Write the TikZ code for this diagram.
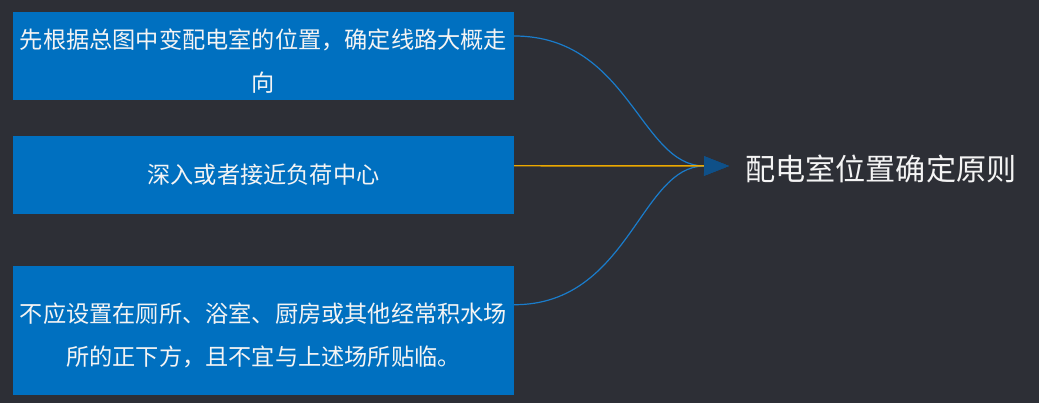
\documentclass[tikz,border=0pt]{standalone}
\usepackage{fontspec}
\setmainfont{Noto Sans CJK SC}
\usetikzlibrary{arrows.meta,calc}
\definecolor{bg}{HTML}{2D2F36}
\definecolor{boxblue}{HTML}{0070C0}
\definecolor{linkblue}{HTML}{1A7CCB}
\definecolor{linkgold}{HTML}{EBA800}
\definecolor{headblue}{HTML}{0F5088}
\definecolor{txt}{HTML}{F4F4F4}
\newcommand{\upstrut}{\rule{0pt}{22pt}}
\begin{document}
\begin{tikzpicture}[x=0.75pt,y=-0.75pt,
  box/.style={fill=boxblue, draw=none, inner sep=0pt, minimum width=375.75pt,
    align=center, text=txt, font=\fontsize{17.4}{32}\selectfont},
  link/.style={line width=0.9pt, -{Triangle[length=18.75pt,width=14.5pt,color=headblue,fill=headblue]}}]
\fill[bg] (0,0) rectangle (1039,403);
\useasboundingbox (0,0) rectangle (1039,403);

\node[box, minimum height=65.6pt] (b1) at (263.4,56) {\upstrut 先根据总图中变配电室的位置，确定线路大概走\\向};
\node[box, minimum height=58.5pt] (b2) at (263.4,175) {深入或者接近负荷中心};
\node[box, minimum height=96.75pt] (b3) at (263.4,330.5) {\upstrut 不应设置在厕所、浴室、厨房或其他经常积水场\\所的正下方，且不宜与上述场所贴临。};

\node[anchor=west, inner sep=0pt, text=txt, font=\fontsize{22.6}{26}\selectfont] (title) at (745,169) {配电室位置确定原则};
\coordinate (tip) at ($(title.west)+(-16,-3)$);

\draw[link, draw=linkblue] ($(b1.north east)+(0,24)$) .. controls +(115,0) and (640,166) .. (tip);
\draw[link, draw=linkblue] ($(b3.north east)+(0,39)$) .. controls +(115,0) and (640,166) .. (tip);
\draw[link, draw=linkgold, line width=1.1pt] ($(b2.north east)+(0,30)$) -- (tip);
\end{tikzpicture}
\end{document}
